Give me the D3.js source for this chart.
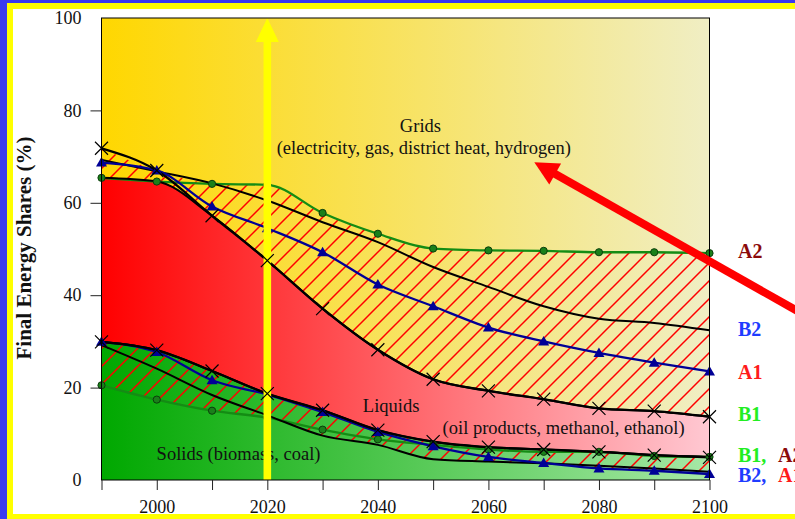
<!DOCTYPE html>
<html>
<head>
<meta charset="utf-8">
<script src="https://cdn.jsdelivr.net/npm/d3@7"></script>
<style>
  html, body { margin: 0; padding: 0; background: #fff; }
  svg { display: block; }
</style>
</head>
<body>
<svg id="chart" width="795" height="519"></svg>
<script>
// Years of the scenario runs
const years = [1990, 2000, 2010, 2020, 2030, 2040, 2050, 2060, 2070, 2080, 2090, 2100];

// Boundary between liquids and grids (solids + liquids share, %) per scenario
const gridTopA2 = [65.4, 64.6, 64.1, 63.9, 57.8, 53.3, 50.1, 49.7, 49.6, 49.3, 49.3, 49.1];
const gridTopB2 = [69.3, 66.8, 64.2, 60.5, 55.8, 51.5, 46.1, 41.8, 37.6, 34.9, 34.0, 32.4];
const gridTopA1 = [68.7, 67.0, 59.2, 54.5, 49.3, 42.3, 37.6, 33.0, 30.0, 27.5, 25.4, 23.5];
const gridTopB1 = [71.8, 67.0, 57.2, 47.5, 37.1, 28.2, 21.8, 19.3, 17.5, 15.5, 14.9, 13.7];

// Boundary between solids and liquids (solids share, %) per scenario
const solidTopA2 = [20.5, 17.4, 15.0, 13.5, 10.9, 8.8, 7.6, 6.6, 6.1, 6.1, 5.2, 5.0];
const solidTopB2 = [29.2, 24.1, 18.4, 14.0, 9.6, 7.6, 4.5, 4.0, 3.6, 3.1, 2.5, 1.8];
const solidTopA1 = [29.9, 27.7, 21.6, 18.5, 14.7, 10.4, 7.3, 5.0, 3.7, 2.5, 2.0, 1.3];
const solidTopB1 = [29.9, 28.1, 23.6, 18.7, 15.1, 10.8, 8.3, 7.1, 6.6, 6.1, 5.4, 4.9];

// Axis ticks
const yTicks = [0, 20, 40, 60, 80, 100];
const xTicks = [1990, 2000, 2010, 2020, 2030, 2040, 2050, 2060, 2070, 2080, 2090, 2100];

const serif = "'Liberation Serif', 'Times New Roman', Times, serif";

const svg = d3.select("#chart");
const plot = { left: 101.5, right: 709.5, top: 18, bottom: 480 };

const x = d3.scaleLinear().domain([1990, 2100]).range([plot.left, plot.right]);
const y = d3.scaleLinear().domain([0, 100]).range([plot.bottom, plot.top]);

// Page frame: blue outer edge, yellow inner band
svg.append("rect").attr("x", 0).attr("y", 0).attr("width", 795).attr("height", 519).attr("fill", "#fff");
svg.append("rect").attr("x", 0).attr("y", 0).attr("width", 7).attr("height", 519).attr("fill", "#3a3af0");
svg.append("rect").attr("x", 0).attr("y", 0).attr("width", 795).attr("height", 3).attr("fill", "#3a3af0");
svg.append("rect").attr("x", 7).attr("y", 3).attr("width", 6).attr("height", 516).attr("fill", "#ffff00");
svg.append("rect").attr("x", 7).attr("y", 3).attr("width", 788).attr("height", 6).attr("fill", "#ffff00");
svg.append("rect").attr("x", 7).attr("y", 514).attr("width", 788).attr("height", 5).attr("fill", "#ffff00");

// Gradients and hatch
const defs = svg.append("defs");
function hGrad(id, c0, c1) {
  const g = defs.append("linearGradient").attr("id", id)
    .attr("gradientUnits", "userSpaceOnUse")
    .attr("x1", plot.left).attr("x2", plot.right).attr("y1", 0).attr("y2", 0);
  g.append("stop").attr("offset", 0).attr("stop-color", c0);
  g.append("stop").attr("offset", 1).attr("stop-color", c1);
}
hGrad("gYellow", "#ffd700", "#f0eec4");
hGrad("gRed", "#ff0000", "#ffc8d2");
hGrad("gGreen", "#00a800", "#a6e8a6");

const pat = defs.append("pattern").attr("id", "hatch")
  .attr("patternUnits", "userSpaceOnUse").attr("width", 18).attr("height", 18);
pat.append("path").attr("d", "M-4.5,4.5 l9,-9 M0,18 l18,-18 M13.5,22.5 l9,-9")
  .attr("stroke", "#ff0000").attr("stroke-width", 1.5);

defs.append("clipPath").attr("id", "plotClip").append("rect")
  .attr("x", plot.left).attr("y", plot.top)
  .attr("width", plot.right - plot.left).attr("height", plot.bottom - plot.top);

// Envelopes across scenarios
const gridSeries = [gridTopA2, gridTopB2, gridTopA1, gridTopB1];
const solidSeries = [solidTopA2, solidTopB2, solidTopA1, solidTopB1];
const gridMin = years.map((_, i) => d3.min(gridSeries, s => s[i]));
const gridMax = years.map((_, i) => d3.max(gridSeries, s => s[i]));
const solidMin = years.map((_, i) => d3.min(solidSeries, s => s[i]));
const solidMax = years.map((_, i) => d3.max(solidSeries, s => s[i]));

const curve = d3.curveMonotoneX;
const band = (lo, hi) => d3.area()
  .x((d, i) => x(years[i]))
  .y0((d, i) => y(lo[i]))
  .y1((d, i) => y(hi[i]))
  .curve(curve)(years);
const zeros = years.map(() => 0);

const g = svg.append("g").attr("clip-path", "url(#plotClip)");

// Grids (top), liquids (middle), solids (bottom)
g.append("rect").attr("x", plot.left).attr("y", plot.top)
  .attr("width", plot.right - plot.left).attr("height", plot.bottom - plot.top)
  .attr("fill", "url(#gYellow)");
g.append("path").attr("d", band(solidMax, gridMin)).attr("fill", "url(#gRed)");
g.append("path").attr("d", band(zeros, solidMax)).attr("fill", "url(#gGreen)");

// Scenario ranges
g.append("path").attr("d", band(gridMin, gridMax)).attr("fill", "url(#hatch)");
g.append("path").attr("d", band(solidMin, solidMax)).attr("fill", "url(#hatch)");

// Region labels
const annot = [
  { t: "Grids", yr: 2047.7, v: 75.3 },
  { t: "(electricity, gas, district heat, hydrogen)", yr: 2048.3, v: 70.5 },
  { t: "Liquids", yr: 2042.4, v: 14.7 },
  { t: "(oil products, methanol, ethanol)", yr: 2073.6, v: 10.0 },
  { t: "Solids (biomass, coal)", yr: 2014.8, v: 4.3 }
];
g.selectAll("text.annot").data(annot).join("text")
  .attr("class", "annot")
  .attr("x", d => x(d.yr)).attr("y", d => y(d.v))
  .attr("text-anchor", "middle")
  .attr("font-family", serif).attr("font-size", 18.5).attr("fill", "#111")
  .text(d => d.t);

// Scenario lines
const line = s => d3.line().x((d, i) => x(years[i])).y(d => y(d)).curve(curve)(s);
const styles = {
  A2: { stroke: "#148c14", width: 2.3 },
  B2: { stroke: "#000", width: 2 },
  A1: { stroke: "#000096", width: 2.3 },
  B1: { stroke: "#000", width: 2.3 }
};
const seriesDefs = [
  { key: "A2", data: gridTopA2, marker: "circle" },
  { key: "B2", data: gridTopB2, marker: null },
  { key: "A1", data: gridTopA1, marker: "tri" },
  { key: "B1", data: gridTopB1, marker: "x" },
  { key: "A2", data: solidTopA2, marker: "circle" },
  { key: "B2", data: solidTopB2, marker: null },
  { key: "A1", data: solidTopA1, marker: "tri" },
  { key: "B1", data: solidTopB1, marker: "x" }
];
seriesDefs.forEach(s => {
  g.append("path").attr("d", line(s.data)).attr("fill", "none")
    .attr("stroke", styles[s.key].stroke).attr("stroke-width", styles[s.key].width)
    .attr("stroke-linejoin", "round");
});

// Edges of the liquids region
g.append("path").attr("d", line(gridMin)).attr("fill", "none").attr("stroke", "#000").attr("stroke-width", 2);
g.append("path").attr("d", line(solidMax)).attr("fill", "none").attr("stroke", "#000").attr("stroke-width", 2);

// Markers: filled ones sit under the arrow, crosses on top
const markersLow = svg.append("g");
const ax = x(2020);
const arrowG = svg.append("g");
const markersHigh = svg.append("g");

seriesDefs.forEach(s => {
  if (!s.marker) return;
  s.data.forEach((v, i) => {
    const px = x(years[i]), py = y(v);
    if (s.marker === "circle") {
      markersLow.append("circle").attr("cx", px).attr("cy", py).attr("r", 3.6)
        .attr("fill", "#1a801a").attr("stroke", "#0b3d0b").attr("stroke-width", 1);
    } else if (s.marker === "tri") {
      markersLow.append("path")
        .attr("d", `M${px},${py - 5.5} L${px + 5.5},${py + 4} L${px - 5.5},${py + 4} Z`)
        .attr("fill", "#000096");
    } else {
      markersHigh.append("path")
        .attr("d", `M${px - 6.5},${py - 6.5} L${px + 6.5},${py + 6.5} M${px - 6.5},${py + 6.5} L${px + 6.5},${py - 6.5}`)
        .attr("stroke", "#000").attr("stroke-width", 1.2);
    }
  });
});

// Yellow arrow at 2020
arrowG.append("rect").attr("x", ax - 3.8).attr("y", plot.top + 23).attr("width", 7.6)
  .attr("height", plot.bottom - plot.top - 23).attr("fill", "#ffff00");
arrowG.append("path")
  .attr("d", `M${ax},${plot.top} L${ax + 11.5},${plot.top + 24} L${ax - 11.5},${plot.top + 24} Z`)
  .attr("fill", "#ffff00");

// Plot frame
svg.append("rect").attr("x", plot.left).attr("y", plot.top)
  .attr("width", plot.right - plot.left).attr("height", plot.bottom - plot.top)
  .attr("fill", "none").attr("stroke", "#000").attr("stroke-width", 1);

// Axes
const yAxis = svg.append("g").attr("transform", `translate(${plot.left},0)`)
  .call(d3.axisLeft(y).tickValues(yTicks).tickSize(11).tickPadding(9).tickFormat(d3.format("d")));
yAxis.select(".domain").remove();
yAxis.selectAll(".tick line").attr("stroke", "#222")
  .attr("display", d => (d === 0 || d === 100) ? "none" : null);
yAxis.selectAll(".tick text").attr("font-family", serif).attr("font-size", 18).attr("fill", "#111");

const xAxis = svg.append("g").attr("transform", `translate(0,${plot.bottom})`)
  .call(d3.axisBottom(x).tickValues(xTicks).tickSize(10).tickPadding(10)
    .tickFormat(d => d % 20 === 0 ? String(d) : ""));
xAxis.select(".domain").remove();
xAxis.selectAll(".tick line").attr("stroke", "#222");
xAxis.selectAll(".tick text").attr("font-family", serif).attr("font-size", 18).attr("fill", "#111");

// Axis title
svg.append("text")
  .attr("transform", "translate(31,248) rotate(-90)")
  .attr("text-anchor", "middle")
  .attr("font-family", serif).attr("font-size", 21).attr("font-weight", "bold")
  .attr("fill", "#111")
  .text("Final Energy Shares (%)");

// Red arrow pointing into the grids region
const tip = [x(2068.3), y(68.8)], tail = [x(2120), y(33.8)];
const dx = tip[0] - tail[0], dy = tip[1] - tail[1], len = Math.hypot(dx, dy);
const ux = dx / len, uy = dy / len;
const headLen = 24, headHalf = 12;
const base = [tip[0] - ux * headLen, tip[1] - uy * headLen];
svg.append("line")
  .attr("x1", tail[0]).attr("y1", tail[1]).attr("x2", base[0] + ux * 2).attr("y2", base[1] + uy * 2)
  .attr("stroke", "#ff0000").attr("stroke-width", 8);
svg.append("path")
  .attr("d", `M${tip[0]},${tip[1]} L${base[0] - uy * headHalf},${base[1] + ux * headHalf} L${base[0] + uy * headHalf},${base[1] - ux * headHalf} Z`)
  .attr("fill", "#ff0000");

// Scenario labels at the right
const cA2 = "#8b0a0a", cB2 = "#1f3cff", cA1 = "#ff1a1a", cB1 = "#22ee22";
const rightLabels = [
  { parts: [["A2", cA2, 738]], base: 258 },
  { parts: [["B2", cB2, 738]], base: 336 },
  { parts: [["A1", cA1, 738]], base: 379 },
  { parts: [["B1", cB1, 738]], base: 420.5 },
  { parts: [["B1,", cB1, 738], ["A2", cA2, 778]], base: 461.5 },
  { parts: [["B2,", cB2, 738], ["A1", cA1, 778]], base: 481.5 }
];
rightLabels.forEach(l => {
  const t = svg.append("text").attr("y", l.base)
    .attr("font-family", serif).attr("font-size", 20).attr("font-weight", "bold");
  l.parts.forEach(p => t.append("tspan").attr("x", p[2]).attr("fill", p[1]).text(p[0]));
});
</script>
</body>
</html>
